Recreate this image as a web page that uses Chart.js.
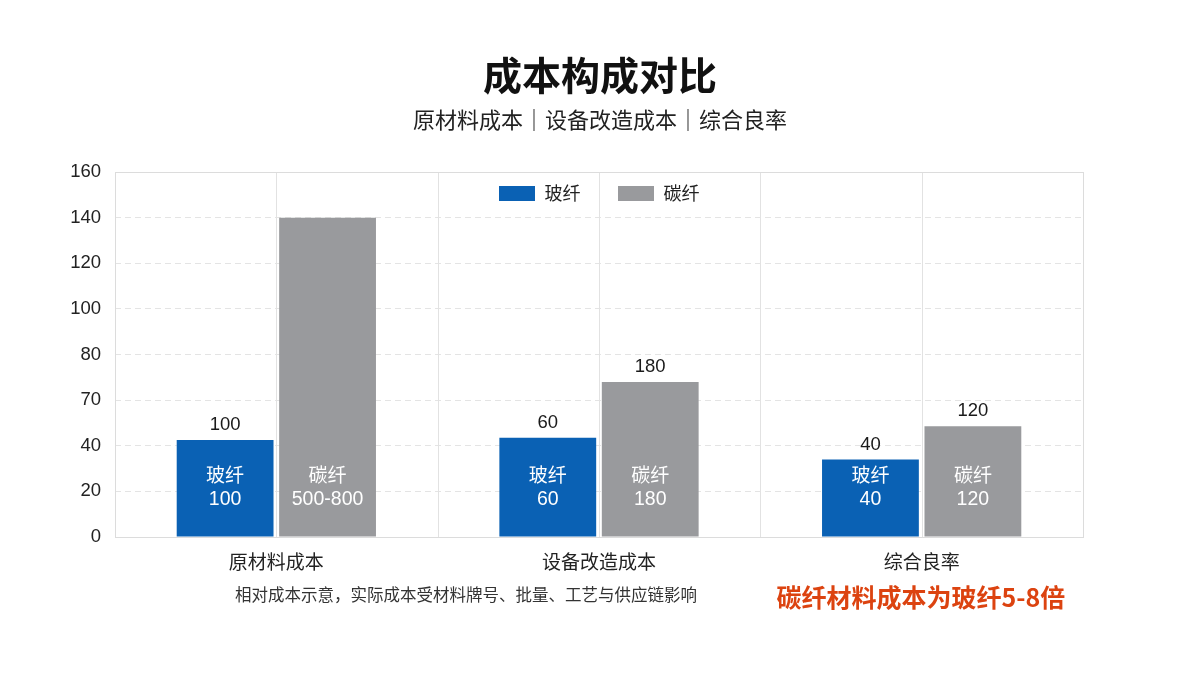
<!DOCTYPE html>
<html>
<head>
<meta charset="utf-8">
<script src="https://cdn.jsdelivr.net/npm/chart.js@4.4.1/dist/chart.umd.min.js"></script>
<style>
  html, body { margin: 0; padding: 0; background: #ffffff; }
  body { width: 1200px; height: 674px; position: relative; overflow: hidden;
         font-family: "Liberation Sans", "Noto Sans CJK SC", sans-serif; }
  #wrap { position: absolute; left: 0; top: 0; width: 1200px; height: 674px; }
  .t { position: absolute; white-space: nowrap; transform: translate(-50%, -50%); }
  #title { left: 600px; top: 73px; font-size: 39px; font-weight: bold; color: #111;
           font-family: "Noto Sans CJK SC", sans-serif; }
  #sub { left: 600px; top: 118px; font-size: 22px; color: #222;
         font-family: "Noto Sans CJK SC", sans-serif; }
  #note { left: 466px; top: 594px; font-size: 16.5px; color: #333;
          font-family: "Noto Sans CJK SC", sans-serif; }
  #hl { left: 921px; top: 596px; font-size: 25px; font-weight: bold; color: #dc4310;
        font-family: "Noto Sans CJK SC", sans-serif; }
</style>
</head>
<body>
<div id="wrap"><canvas id="c" width="1200" height="674"></canvas></div>
<div class="t" id="title">成本构成对比</div>
<div class="t" id="sub">原材料成本｜设备改造成本｜综合良率</div>
<div class="t" id="note">相对成本示意，实际成本受材料牌号、批量、工艺与供应链影响</div>
<div class="t" id="hl">碳纤材料成本为玻纤5-8倍</div>
<script>
const categories = ["原材料成本", "设备改造成本", "综合良率"];
const seriesNames = ["玻纤", "碳纤"];
const glassValues = [42.5, 43.5, 34];
const carbonValues = [140, 68, 48.5];
const glassTopLabels = ["100", "60", "40"];
const carbonTopLabels = ["", "180", "120"];
const glassInnerLabels = ["100", "60", "40"];
const carbonInnerLabels = ["500-800", "180", "120"];
const yTickLabels = ["0", "20", "40", "70", "80", "100", "120", "140", "160"];

const NUM_FONT = '"Liberation Sans", "Noto Sans CJK SC", sans-serif';
const CJK_FONT = '"Noto Sans CJK SC", sans-serif';
const BLUE = "#0a61b4";
const GRAY = "#999a9d";

const gridPlugin = {
  id: "boxGrid",
  beforeDatasetsDraw(chart) {
    const { ctx, chartArea: a, scales: { x } } = chart;
    ctx.save();
    ctx.strokeStyle = "#e2e2e2";
    ctx.lineWidth = 1;
    ctx.setLineDash([]);
    const n = categories.length;
    for (let i = 0; i < n; i++) {
      const cx = Math.round(x.getPixelForValue(i)) + 0.5;
      ctx.beginPath(); ctx.moveTo(cx, a.top); ctx.lineTo(cx, a.bottom); ctx.stroke();
      if (i > 0) {
        const bx = Math.round((x.getPixelForValue(i) + x.getPixelForValue(i - 1)) / 2) + 0.5;
        ctx.beginPath(); ctx.moveTo(bx, a.top); ctx.lineTo(bx, a.bottom); ctx.stroke();
      }
    }
    ctx.strokeStyle = "#dcdcdc";
    ctx.strokeRect(Math.round(a.left) + 0.5, Math.round(a.top) + 0.5,
                   Math.round(a.right - a.left), Math.round(a.bottom - a.top));
    ctx.restore();
  }
};

const legendPlugin = {
  id: "innerLegend",
  afterDatasetsDraw(chart) {
    const { ctx, chartArea: a } = chart;
    const boxW = 36, boxH = 15, gapText = 10, gapItem = 37;
    ctx.save();
    ctx.font = "18px " + CJK_FONT;
    ctx.textBaseline = "middle";
    ctx.textAlign = "left";
    const items = chart.data.datasets.map(ds => ({ label: ds.label, color: ds.backgroundColor,
      w: boxW + gapText + ctx.measureText(ds.label).width }));
    const total = items.reduce((s, it) => s + it.w, 0) + gapItem * (items.length - 1);
    let xPos = (a.left + a.right) / 2 - total / 2;
    const cy = a.top + 21;
    items.forEach(it => {
      ctx.fillStyle = it.color;
      ctx.fillRect(Math.round(xPos), Math.round(cy - boxH / 2), boxW, boxH);
      ctx.fillStyle = "#222";
      ctx.fillText(it.label, xPos + boxW + gapText, cy);
      xPos += it.w + gapItem;
    });
    ctx.restore();
  }
};

const labelPlugin = {
  id: "barLabels",
  afterDatasetsDraw(chart) {
    const { ctx, scales: { y } } = chart;
    const base = y.getPixelForValue(0);
    const tops = [glassTopLabels, carbonTopLabels];
    const inners = [glassInnerLabels, carbonInnerLabels];
    ctx.save();
    ctx.textAlign = "center";
    ctx.textBaseline = "middle";
    chart.data.datasets.forEach((ds, di) => {
      const meta = chart.getDatasetMeta(di);
      meta.data.forEach((bar, i) => {
        const t = tops[di][i];
        if (t) {
          ctx.fillStyle = "#1a1a1a";
          ctx.font = "18.5px " + NUM_FONT;
          ctx.fillText(t, bar.x, bar.y - 15);
        }
        ctx.fillStyle = "#ffffff";
        ctx.font = "19px " + NUM_FONT;
        ctx.fillText(seriesNames[di], bar.x, base - 60);
        ctx.font = "19.5px " + NUM_FONT;
        ctx.fillText(inners[di][i], bar.x, base - 37);
      });
    });
    ctx.restore();
  }
};

new Chart(document.getElementById("c"), {
  type: "bar",
  data: {
    labels: categories,
    datasets: [
      { label: seriesNames[0], data: glassValues, backgroundColor: BLUE, borderWidth: 0 },
      { label: seriesNames[1], data: carbonValues, backgroundColor: GRAY, borderWidth: 0 }
    ]
  },
  options: {
    responsive: false,
    animation: false,
    devicePixelRatio: 1,
    layout: { padding: { left: 40, right: 117, top: 172, bottom: 97 } },
    datasets: { bar: { categoryPercentage: 0.635, barPercentage: 0.945 } },
    plugins: {
      legend: { display: false },
      tooltip: { enabled: false },
      title: { display: false }
    },
    scales: {
      x: {
        grid: { display: false, drawTicks: false },
        border: { display: false },
        ticks: { color: "#222", padding: 13, font: { size: 19, family: CJK_FONT } },
        afterFit(s) { s.height = 40; }
      },
      y: {
        min: 0, max: 160,
        ticks: {
          stepSize: 20, padding: 14, color: "#222",
          font: { size: 18.5, family: NUM_FONT },
          callback: (v, i) => yTickLabels[i]
        },
        grid: { color: "#e4e4e4", lineWidth: 1, drawTicks: false },
        border: { display: false, dash: [6, 4] },
        afterFit(s) { s.width = 75; }
      }
    }
  },
  plugins: [gridPlugin, legendPlugin, labelPlugin]
});
</script>
</body>
</html>
